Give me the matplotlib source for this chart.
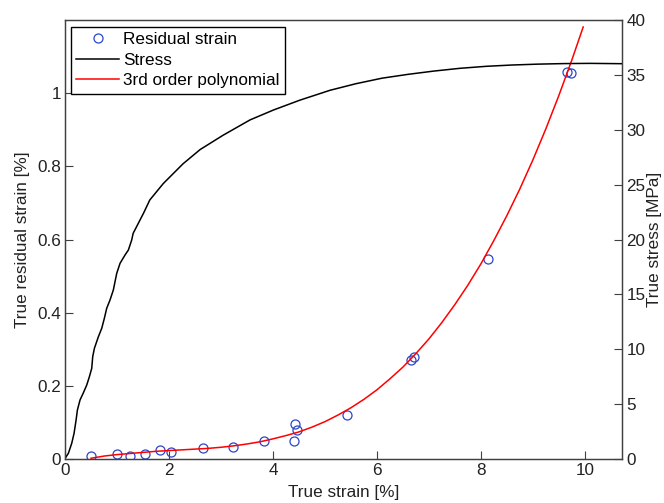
import matplotlib
matplotlib.use('Agg')
import matplotlib.pyplot as plt

plt.rcParams['font.family'] = ['Liberation Sans', 'DejaVu Sans']

# Residual strain measurements (true strain [%], true residual strain [%])
res_strain_x = [0.50, 1.00, 1.24, 1.54, 1.83, 2.04, 2.66, 3.24, 3.82, 4.40, 4.43, 4.46,
                5.42, 6.65, 6.72, 8.13, 9.66, 9.73]
res_strain_y = [0.009, 0.014, 0.008, 0.013, 0.024, 0.020, 0.030, 0.032, 0.050, 0.050, 0.097, 0.078,
                0.119, 0.270, 0.280, 0.546, 1.059, 1.055]

# 3rd order polynomial curve
poly_x = [0.50, 0.75, 1.00, 1.25, 1.50, 1.75, 2.00, 2.25, 2.50, 2.75, 3.00, 3.25, 3.50,
          3.75, 4.00, 4.25, 4.50, 4.75, 5.00, 5.25, 5.50, 5.75, 6.00, 6.25, 6.50, 6.75,
          7.00, 7.25, 7.50, 7.75, 8.00, 8.25, 8.50, 8.75, 9.00, 9.25, 9.50, 9.75, 9.97]
poly_y = [0.002, 0.008, 0.012, 0.015, 0.018, 0.021, 0.023, 0.025, 0.027, 0.029, 0.032,
          0.036, 0.041, 0.047, 0.055, 0.064, 0.074, 0.087, 0.102, 0.120, 0.140, 0.163,
          0.189, 0.219, 0.251, 0.288, 0.328, 0.373, 0.422, 0.475, 0.533, 0.597, 0.665,
          0.738, 0.817, 0.902, 0.993, 1.090, 1.181]

# Stress curve (true strain [%], true stress [MPa])
stress_x = [0.000, 0.064, 0.128, 0.173, 0.212, 0.237, 0.288, 0.353, 0.417, 0.468, 0.513,
            0.532, 0.564, 0.641, 0.705, 0.756, 0.801, 0.865, 0.929, 0.994, 1.058, 1.154,
            1.218, 1.282, 1.31, 1.51, 1.63, 1.89, 2.27, 2.60, 3.04, 3.56, 4.01, 4.52,
            5.10, 5.60, 6.10, 6.60, 7.10, 7.60, 8.10, 8.60, 9.10, 9.60, 10.10, 10.72]
stress_y = [0.06, 0.52, 1.43, 2.34, 3.55, 4.46, 5.38, 6.04, 6.74, 7.50, 8.26,
            9.32, 10.08, 11.14, 11.90, 12.82, 13.73, 14.49, 15.40, 16.92, 17.83, 18.59,
            19.04, 19.95, 20.56, 22.4, 23.6, 25.1, 26.9, 28.2, 29.5, 30.9, 31.8, 32.7,
            33.6, 34.2, 34.7, 35.05, 35.35, 35.6, 35.78, 35.9, 35.98, 36.03, 36.05, 36.02]

fig = plt.figure(figsize=(6.64, 5.03), dpi=100)
ax = fig.add_axes([0.098, 0.0875, 0.839, 0.8727])
ax2 = ax.twinx()

h_res, = ax.plot(res_strain_x, res_strain_y, 'o', mfc='none', mec='#2c45c8',
                 ms=6.5, mew=0.9, label='Residual strain')
h_poly, = ax.plot(poly_x, poly_y, color='#ff0000', lw=1.1, label='3rd order polynomial')
h_str, = ax2.plot(stress_x, stress_y, color='black', lw=1.1, label='Stress')

ax.set_xlim(0, 10.72)
ax.set_ylim(0, 1.2)
ax2.set_ylim(0, 40)
ax.set_xticks([0, 2, 4, 6, 8, 10])
ax.set_yticks([0, 0.2, 0.4, 0.6, 0.8, 1.0])
ax.set_yticklabels(['0', '0.2', '0.4', '0.6', '0.8', '1'])
ax2.set_yticks([0, 5, 10, 15, 20, 25, 30, 35, 40])

fs = 12.3
for a in (ax, ax2):
    a.tick_params(direction='in', length=6, width=0.8, labelsize=fs, pad=3,
                  colors='#404040', labelcolor='#222222')
    for s in a.spines.values():
        s.set_color('#404040')
        s.set_linewidth(0.9)

ax.set_xlabel('True strain [%]', fontsize=fs, color='#222222', labelpad=5)
ax.set_ylabel('True residual strain [%]', fontsize=fs, color='#222222', labelpad=5)
ax2.set_ylabel('True stress [MPa]', fontsize=fs, color='#222222', labelpad=1)

leg = ax2.legend([h_res, h_str, h_poly], ['Residual strain', 'Stress', '3rd order polynomial'],
                 loc='upper left', bbox_to_anchor=(0.011, 0.984), fontsize=fs,
                 fancybox=False, framealpha=1, edgecolor='black', borderpad=0.3,
                 labelspacing=0.33, handlelength=2.5, handletextpad=0.25, borderaxespad=0)
leg.get_frame().set_linewidth(1.0)

plt.savefig('out.png', dpi=100)
